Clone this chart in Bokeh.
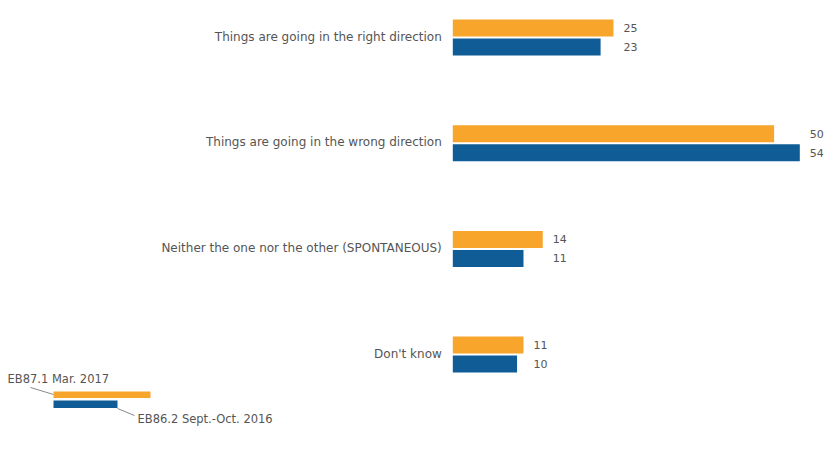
from bokeh.plotting import figure
from bokeh.models import ColumnDataSource, Range1d
from bokeh.embed import file_html
from bokeh.resources import INLINE
from bokeh.core.properties import value

# ---- data ----
categories = [
    "Things are going in the right direction",
    "Things are going in the wrong direction",
    "Neither the one nor the other (SPONTANEOUS)",
    "Don't know",
]
series_names = ["EB87.1 Mar. 2017", "EB86.2 Sept.-Oct. 2016"]
eb87_values = [25, 50, 14, 11]
eb86_values = [23, 54, 11, 10]

# ---- styling / layout ----
ORANGE = "#F7A52B"
BLUE = "#0F5C96"
TEXT = "#555555"
FONT = "DejaVu Sans"
W, H = 837, 450
KX = 6.426          # px per percentage point
X0 = -452.3 / KX    # left of frame in data units
KY = 105.7          # px per category step
Y_TOP = -37 / KY
BAR_H = 17 / KY
OFF = 9.5 / KY


def px2x(px):
    return X0 + px / KX


def px2y(py):
    return Y_TOP + py / KY


p = figure(width=W, height=H, output_backend="svg", toolbar_location=None,
           x_range=Range1d(X0, X0 + W / KX),
           y_range=Range1d(Y_TOP + H / KY, Y_TOP),
           x_axis_location=None, y_axis_location=None, min_border=0)
p.grid.visible = False
p.outline_line_color = None
p.background_fill_color = "white"
p.border_fill_color = "white"

idx = list(range(len(categories)))
src = ColumnDataSource(dict(
    cat=categories,
    y=idx,
    y87=[i - OFF for i in idx],
    y86=[i + OFF for i in idx],
    v87=eb87_values,
    v86=eb86_values,
    t87=[str(v) for v in eb87_values],
    t86=[str(v) for v in eb86_values],
    lx=[max(a, b) for a, b in zip(eb87_values, eb86_values)],
))

p.hbar(y="y87", left=0, right="v87", height=BAR_H, source=src,
       fill_color=ORANGE, line_color=None)
p.hbar(y="y86", left=0, right="v86", height=BAR_H, source=src,
       fill_color=BLUE, line_color=None)

p.text(x=0, y="y", text="cat", source=src, x_offset=-11, y_offset=-1,
       text_align="right", text_baseline="middle",
       text_font=value(FONT), text_font_size="12px", text_color=TEXT)
p.text(x="lx", y="y87", text="t87", source=src, x_offset=10,
       text_align="left", text_baseline="middle",
       text_font=value(FONT), text_font_size="11px", text_color=TEXT)
p.text(x="lx", y="y86", text="t86", source=src, x_offset=10,
       text_align="left", text_baseline="middle",
       text_font=value(FONT), text_font_size="11px", text_color=TEXT)

# ---- legend (drawn) ----
leg = ColumnDataSource(dict(
    left=[px2x(53), px2x(53)],
    right=[px2x(150), px2x(117)],
    top=[px2y(391), px2y(400)],
    bottom=[px2y(397.5), px2y(407.5)],
    color=[ORANGE, BLUE],
))
p.quad(left="left", right="right", top="top", bottom="bottom", source=leg,
       fill_color="color", line_color=None)
p.segment(x0=[px2x(30), px2x(117)], y0=[px2y(387), px2y(408)],
          x1=[px2x(53), px2x(134)], y1=[px2y(394), px2y(415)],
          line_color="#8a8a8a", line_width=1)
p.text(x=[px2x(7), px2x(137)], y=[px2y(378), px2y(418)], text=series_names,
       text_align="left", text_baseline="middle",
       text_font=value(FONT), text_font_size="11.5px", text_color=TEXT)

open("out.html", "w").write(file_html(p, INLINE))
